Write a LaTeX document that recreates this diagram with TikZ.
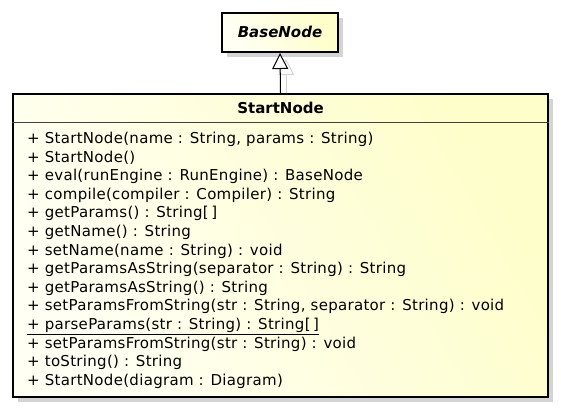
\documentclass[tikz,border=0pt]{standalone}
\usepackage{fontspec}
\setmainfont{DejaVu Sans}
\newfontfamily\memberfont[LetterSpace=2]{DejaVu Sans}
\usetikzlibrary{arrows.meta,shadows}
\definecolor{boxlight}{HTML}{FFFFF4}
\definecolor{boxdark}{HTML}{FEFECA}
\definecolor{shadowgray}{HTML}{D4D4D4}
\tikzset{
  classbox/.style={draw=black, line width=2pt, inner sep=0pt,
    left color=boxlight, right color=boxdark, shading angle=120,
    drop shadow={shadow xshift=5pt, shadow yshift=-5pt, fill=shadowgray, opacity=1}},
  member/.style={anchor=base west, inner sep=0pt,
    font=\memberfont\fontsize{15}{17}\selectfont},
  titletext/.style={inner sep=0pt, font=\fontsize{15}{17}\selectfont\bfseries},
}
\begin{document}
\begin{tikzpicture}[x=1pt,y=-1pt]
\useasboundingbox (0,0) rectangle (561,412);
% boxes
\node[classbox, minimum width=116pt, minimum height=39pt] (base) at (280,32.5) {};
\node[titletext, font=\fontsize{15}{17}\selectfont\bfseries\itshape] (basetitle) at (280,32) {BaseNode};
\node[classbox, minimum width=535pt, minimum height=303pt] (start) at (280.5,245.5) {};
\node[titletext] (starttitle) at (280.5,108) {StartNode};
\draw[line width=0.8pt, black!75] (start.west |- 0,122) -- (start.east |- 0,122);
% generalization with shadow
\draw[shadowgray, line width=1pt, -{Triangle[length=16pt,width=16pt,fill=white]}]
  ([shift={(6,0)}]start.north) -- ([shift={(6,6)}]base.south);
\draw[black, line width=1pt, -{Triangle[length=16pt,width=16pt,fill=white]}]
  (start.north) -- (base.south);
% members
\foreach \i/\t in {
 1/{+ StartNode(name : String, params : String)},
 2/{+ StartNode()},
 3/{+ eval(runEngine : RunEngine) : BaseNode},
 4/{+ compile(compiler : Compiler) : String},
 5/{+ getParams() : String[\,]},
 6/{+ getName() : String},
 7/{+ setName(name : String) : void},
 8/{+ getParamsAsString(separator : String) : String},
 9/{+ getParamsAsString() : String},
 10/{+ setParamsFromString(str : String, separator : String) : void},
 11/{\underline{+ parseParams(str : String) : String[\,]}},
 12/{+ setParamsFromString(str : String) : void},
 13/{+ toString() : String},
 14/{+ StartNode(diagram : Diagram)}}
{
  \node[member] (m\i) at (27,{143.5+(\i-1)*18.6}) {\t};
}
\end{tikzpicture}
\end{document}
